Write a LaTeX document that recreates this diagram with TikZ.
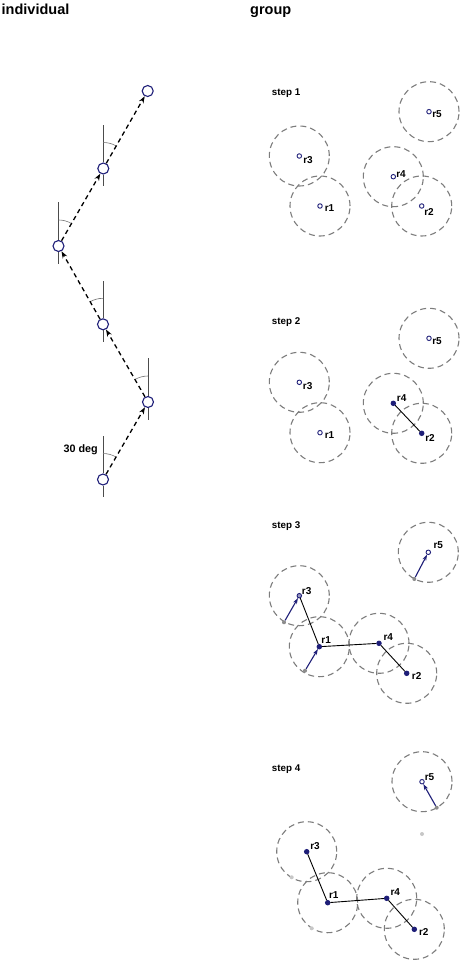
\documentclass[tikz,border=0pt]{standalone}
\usepackage{fontspec}
\setmainfont{Liberation Sans}
\usetikzlibrary{arrows.meta,backgrounds}
\definecolor{navyc}{RGB}{30,30,120}
\definecolor{rangec}{RGB}{125,125,125}
\begin{document}
\begin{tikzpicture}[x=1pt,y=1pt,
  posc/.style={circle,draw=navyc,fill=white,line width=1.1pt,minimum size=11pt,inner sep=0pt},
  vline/.style={draw=black!70,line width=0.6pt},
  anglearc/.style={draw=black!55,line width=0.6pt},
  trail/.style={draw=black,line width=1.3pt,dash pattern=on 4.5pt off 3.5pt,-{Stealth[length=7pt,width=5pt]}},
  headtxt/.style={font=\bfseries\fontsize{14.5}{17}\selectfont,anchor=base west,inner sep=0pt},
  steplbl/.style={font=\bfseries\fontsize{9.8}{12}\selectfont,anchor=base west,inner sep=0pt},
  degtxt/.style={font=\bfseries\fontsize{10.8}{12}\selectfont,anchor=base west,inner sep=0pt},
  rlbl/.style={font=\bfseries\fontsize{10}{12}\selectfont,inner sep=0pt},
  robot/.style={circle,draw=navyc,fill=white,line width=0.9pt,minimum size=4.5pt,inner sep=0pt},
  robotmid/.style={robot,fill=navyc!45},
  robotlinked/.style={robot,fill=navyc},
  ghost/.style={circle,fill=black!45,minimum size=4pt,inner sep=0pt},
  faintghost/.style={circle,fill=black!22,minimum size=4pt,inner sep=0pt},
  sensor/.style={draw=rangec,line width=1.1pt,dash pattern=on 6pt off 4pt},
  linkline/.style={draw=black,line width=0.9pt},
  moveto/.style={draw=navyc,line width=1.1pt,-{Stealth[length=6pt,width=4pt]}}
]
\begin{scope}[on background layer]
\fill[white] (0,0) rectangle (460,-960);
\end{scope}
\useasboundingbox (0,0) rectangle (460,-960);

% headings
\node[headtxt] (hind) at (1.5,-15) {individual};
\node[headtxt] (hgrp) at (250,-15) {group};

% ---------------- individual ----------------
\node[posc] (c1) at (103,-479.5) {};
\node[posc] (c2) at (148,-402) {};
\node[posc] (c3) at (103,-324.3) {};
\node[posc] (c4) at (58.5,-246) {};
\node[posc] (c5) at (103.3,-168.5) {};
\node[posc] (c6) at (147.7,-91) {};

\foreach \c in {c1,c2,c3,c4,c5}{
  \draw[vline] (\c.north) -- ++(0,37.5);
  \draw[vline] (\c.south) -- ++(0,-11.5);
}
\draw[anglearc] ([shift={(90:26)}]c1.center) arc[start angle=90,end angle=60,radius=26];
\draw[anglearc] ([shift={(90:26)}]c2.center) arc[start angle=90,end angle=120,radius=26];
\draw[anglearc] ([shift={(90:26)}]c3.center) arc[start angle=90,end angle=120,radius=26];
\draw[anglearc] ([shift={(90:26)}]c4.center) arc[start angle=90,end angle=60,radius=26];
\draw[anglearc] ([shift={(90:26)}]c5.center) arc[start angle=90,end angle=60,radius=26];

\draw[trail] (c1) -- (c2);
\draw[trail] (c2) -- (c3);
\draw[trail] (c3) -- (c4);
\draw[trail] (c4) -- (c5);
\draw[trail] (c5) -- (c6);

\node[degtxt] (deg) at (63.3,-452.7) {30 deg};

% ---------------- step 1 ----------------
\node[steplbl] (st1) at (271.7,-95.5) {step 1};
\node[robot] (a1) at (320,-206) {};
\node[robot] (a2) at (421.7,-206) {};
\node[robot] (a3) at (299.3,-156) {};
\node[robot] (a4) at (393.3,-176.7) {};
\node[robot] (a5) at (429,-111.7) {};
\begin{scope}[on background layer]
\foreach \r in {a1,a2,a3,a4,a5}{\draw[sensor] (\r.center) circle[radius=30];}
\end{scope}
\node[rlbl] (a1l) at (329.5,-208) {r1};
\node[rlbl] (a2l) at (429,-212) {r2};
\node[rlbl] (a3l) at (308,-159.7) {r3};
\node[rlbl] (a4l) at (401,-173.7) {r4};
\node[rlbl] (a5l) at (437,-114.5) {r5};

% ---------------- step 2 ----------------
\node[steplbl] (st2) at (271.7,-324.7) {step 2};
\node[robot] (b1) at (320,-432.7) {};
\node[robotlinked] (b2) at (421.7,-433.3) {};
\node[robot] (b3) at (299.3,-382.3) {};
\node[robotlinked] (b4) at (393.3,-403.3) {};
\node[robot] (b5) at (429,-338.3) {};
\begin{scope}[on background layer]
\foreach \r in {b1,b2,b3,b4,b5}{\draw[sensor] (\r.center) circle[radius=30];}
\end{scope}
\draw[linkline] (b4) -- (b2);
\node[rlbl] (b1l) at (329.5,-435.5) {r1};
\node[rlbl] (b2l) at (430,-438) {r2};
\node[rlbl] (b3l) at (307.7,-386) {r3};
\node[rlbl] (b4l) at (401.7,-398.3) {r4};
\node[rlbl] (b5l) at (437,-341) {r5};

% ---------------- step 3 ----------------
\node[steplbl] (st3) at (271.7,-528.8) {step 3};
\node[robotlinked] (d1) at (319.3,-646.7) {};
\node[robotlinked] (d2) at (406.7,-673.3) {};
\node[robotmid] (d3) at (299.3,-595.7) {};
\node[robotlinked] (d4) at (379,-643.3) {};
\node[robot] (d5) at (428.3,-552.3) {};
\node[ghost] (g31) at (305,-670.7) {};
\node[ghost] (g33) at (284,-622.3) {};
\node[ghost] (g35) at (414.3,-579) {};
\begin{scope}[on background layer]
\foreach \r in {d1,d2,d3,d4,d5}{\draw[sensor] (\r.center) circle[radius=30];}
\end{scope}
\draw[linkline] (d3) -- (d1);
\draw[linkline] (d1) -- (d4);
\draw[linkline] (d4) -- (d2);
\draw[moveto] (g31) -- (d1);
\draw[moveto] (g33) -- (d3);
\draw[moveto] (g35) -- (d5);
\node[rlbl] (d1l) at (326.2,-640) {r1};
\node[rlbl] (d2l) at (416.7,-676) {r2};
\node[rlbl] (d3l) at (306.7,-591) {r3};
\node[rlbl] (d4l) at (388.3,-637) {r4};
\node[rlbl] (d5l) at (438.3,-545.5) {r5};

% ---------------- step 4 ----------------
\node[steplbl] (st4) at (271.7,-771.7) {step 4};
\node[robotlinked] (e1) at (327.7,-902.7) {};
\node[robotlinked] (e2) at (414.3,-929.3) {};
\node[robotlinked] (e3) at (306.7,-851.7) {};
\node[robotlinked] (e4) at (386.7,-898.3) {};
\node[robot] (e5) at (422,-781.7) {};
\node[ghost] (g45) at (436.7,-807.7) {};
\node[faintghost] (g45b) at (422,-834) {};
\node[faintghost] (g43) at (291.7,-877.3) {};
\node[faintghost] (g41) at (311.7,-928.3) {};
\begin{scope}[on background layer]
\foreach \r in {e1,e2,e3,e4,e5}{\draw[sensor] (\r.center) circle[radius=30];}
\end{scope}
\draw[linkline] (e3) -- (e1);
\draw[linkline] (e1) -- (e4);
\draw[linkline] (e4) -- (e2);
\draw[moveto] (g45) -- (e5);
\node[rlbl] (e1l) at (333.8,-895.5) {r1};
\node[rlbl] (e2l) at (423.8,-932) {r2};
\node[rlbl] (e3l) at (315,-846) {r3};
\node[rlbl] (e4l) at (395.3,-891.7) {r4};
\node[rlbl] (e5l) at (429.5,-776.7) {r5};
\end{tikzpicture}
\end{document}
